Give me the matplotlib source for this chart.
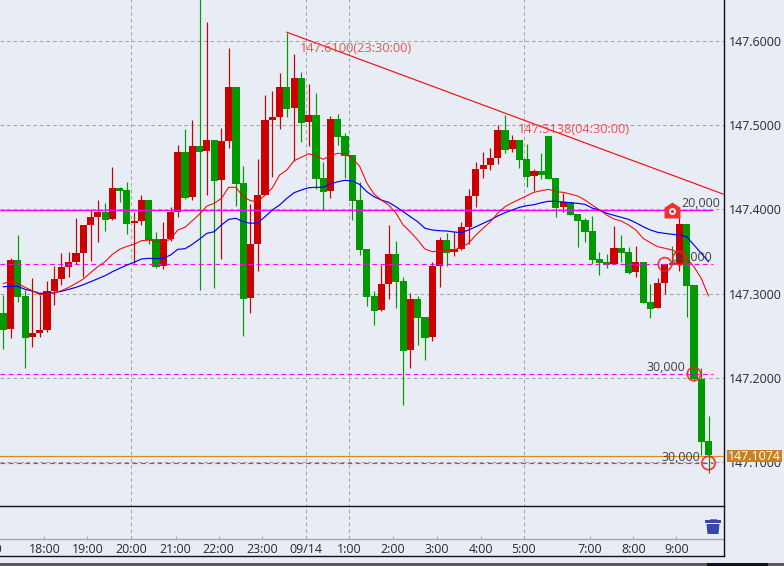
import numpy as np
import matplotlib
matplotlib.use("Agg")
import matplotlib.pyplot as plt
from matplotlib.patches import Rectangle, Polygon
from matplotlib.path import Path
from matplotlib.transforms import Affine2D

plt.rcParams['font.family'] = ['Open Sans', 'DejaVu Sans']

# Prices are listed in units of 0.0001 above 147.0000
open_u = [2770,2581,3399,2972,2486,2533,2569,3031,3173,3316,3375,3482,3814,3909,3968,3885,4253,4229,3838,3861,4110,3648,3328,3648,3968,4679,4146,4751,4691,4822,4347,4810,5450,4312,2948,3589,4170,5059,5095,5450,5201,5557,5035,5118,4371,4217,5071,4869,4644,4110,3529,2972,2806,3114,3470,3150,2332,2936,2723,2486,3328,3636,3494,3529,3790,4158,4478,4525,4608,4940,4715,4822,4596,4395,4454,4869,4371,4027,4087,3944,3873,3743,3411,3375,3351,3541,3494,3256,3375,2901,2830,3126,3363,3351,3826,3102,1988,1252]
close_u = [2569,3399,2960,2474,2533,2569,3031,3173,3316,3375,3482,3814,3909,3968,3873,4253,4217,3826,3861,4110,3636,3316,3648,3968,4679,4134,4751,4679,4822,4336,4810,5450,4300,2936,3589,4170,5059,5095,5450,5189,5557,5023,5118,4359,4205,5071,4857,4632,4098,3517,2960,2794,3114,3470,3138,2320,2936,2711,2474,3328,3636,3482,3529,3790,4158,4478,4525,4608,4940,4703,4822,4585,4383,4454,4407,4359,4015,4087,3932,3861,3731,3399,3363,3339,3541,3482,3245,3375,2889,2818,3126,3351,3339,3826,3090,1988,1241,1086]
high_u = [2984,3423,3695,3043,3185,2984,3150,3328,3482,3494,3897,3814,4004,4110,4075,4502,4264,4324,3968,4170,4110,3731,3849,4027,4762,4952,5059,6600,6221,4822,4964,5913,5450,4513,4063,4596,5355,5403,5616,6091,5842,5628,5486,5379,4561,5106,5130,4905,4644,4324,3529,3031,3339,3814,3624,3197,3007,2972,2723,3375,3672,3719,3743,3849,4241,4561,4679,4727,5000,5118,4881,4822,4774,4478,4668,4869,4371,4193,4087,3944,3897,3921,3494,3470,3802,3695,3553,3565,3375,3114,3185,3351,3565,3932,3826,3102,2118,1549]
low_u = [2343,2474,2901,2118,2367,2486,2545,2865,3102,3197,3351,3197,3387,3612,3743,3873,4087,3707,3363,3814,3589,3304,3292,3624,3909,4122,4110,3043,4170,3067,3411,4727,4039,2498,2770,3268,4170,4383,4952,5095,4573,4798,4751,4241,3992,4134,4762,4371,3873,3458,2853,2628,2794,2936,2830,1679,2118,2391,2213,2438,3079,3328,3446,3517,3589,4027,4371,4466,4537,4668,4679,4490,4264,4217,4359,4359,3909,3968,3932,3553,3612,3351,3221,3304,3351,3375,3233,3197,2889,2711,2830,2996,3339,3268,2723,1964,1086,873]
ma_short_u = [3122,3141,3122,3075,3035,2987,2996,3011,3035,3075,3122,3173,3248,3319,3379,3466,3526,3561,3585,3628,3636,3616,3616,3644,3755,3787,3865,3944,4039,4071,4130,4261,4261,4149,4102,4090,4170,4253,4407,4466,4576,4617,4659,4636,4593,4636,4664,4656,4605,4513,4312,4181,4110,4051,3956,3814,3731,3636,3529,3497,3509,3514,3517,3549,3597,3695,3775,3853,3953,4031,4078,4119,4161,4202,4221,4237,4209,4202,4181,4158,4110,4051,3992,3932,3885,3861,3814,3755,3656,3604,3557,3538,3517,3478,3419,3319,3182,2972]
ma_long_u = [3082,3087,3087,3051,3031,3004,3004,3011,3028,3051,3075,3106,3141,3177,3213,3260,3300,3339,3372,3411,3419,3414,3419,3458,3526,3533,3585,3648,3715,3734,3814,3881,3893,3853,3834,3841,3912,3992,4051,4130,4197,4229,4256,4261,4261,4300,4327,4344,4336,4296,4209,4149,4110,4083,4031,3972,3912,3853,3775,3755,3746,3743,3731,3723,3755,3794,3834,3873,3921,3960,3992,4024,4043,4055,4078,4095,4095,4087,4078,4071,4059,4015,3992,3953,3929,3905,3881,3841,3794,3755,3727,3715,3704,3695,3675,3577,3478,3379]

x_labels = ["18:00","19:00","20:00","21:00","22:00","23:00","09/14","1:00","2:00","3:00","4:00","5:00","7:00","8:00","9:00"]
x_ticks = [5.64,11.58,17.63,23.69,29.6,35.58,41.57,47.6,53.6,59.66,65.7,71.6,80.7,86.66,92.57]
x_grid = [17.63,41.57,47.6,71.6]
y_ticks = [147.1,147.2,147.3,147.4,147.5,147.6]

trend_x = [39, 99]
trend_y = [147.61, 147.4181]
peak_notes = [(40.8, 147.5907, "147.6100(23:30:00)"), (70.8, 147.4952, "147.5138(04:30:00)")]

solid_level = 147.3995
dashed_levels = [147.3348, 147.2043, 147.0988]
last_price = 147.1074
order_labels = [(98.6, 147.4065, "20,000"), (97.5, 147.3424, "30,000"),
                (93.8, 147.2120, "30,000"), (95.8, 147.1056, "30,000")]
circle_x = [91, 93, 95, 97]
circle_y = [147.3348, 147.3422, 147.2047, 147.0992]
house_x = 92
house_y = 147.3992

BG = '#E8ECF4'
GRID = '#A6A6A6'
UP = '#CC0000'
DOWN = '#009900'
MAG = '#FF00FF'
TXT = '#2A2A2A'
FS = 8.9
W, H = 784, 566

fig = plt.figure(figsize=(W/100, H/100), dpi=100, facecolor=BG)
ax2 = fig.add_axes([0, 1-556/H, 723.5/W, 50.5/H], facecolor=BG)
ax = fig.add_axes([0, 1-505.5/H, 723.5/W, 505.5/H], facecolor=BG)
ax.set_zorder(3)
XL = (-0.454, 99.06)
ax.set_xlim(XL); ax2.set_xlim(XL)
ax.set_ylim(147.0488, 147.6482)
ax2.set_ylim(0, 1)

O = 147 + np.array(open_u)/1e4
C = 147 + np.array(close_u)/1e4
Hi = 147 + np.array(high_u)/1e4
Lo = 147 + np.array(low_u)/1e4
X = np.arange(len(O))
cols = [UP if c > o else DOWN for o, c in zip(O, C)]

dash = (0, (3.5, 2.8))
for y in y_ticks:
    ax.axhline(y, color=GRID, lw=0.75, ls=dash, zorder=1)
ax.vlines(x_grid, 147, 148, color=GRID, lw=0.75, ls=dash, zorder=1)
ax2.vlines(x_grid, 0.327, 1, color=GRID, lw=0.75, ls=dash, zorder=1)

ax.vlines(X, Lo, Hi, colors=cols, lw=0.85, zorder=2)
ax.bar(X, np.abs(C-O), bottom=np.minimum(O, C), width=0.985, color=cols, linewidth=0, zorder=2.1, antialiased=False)

xm = 97.6
ax.plot([XL[0], xm], [solid_level]*2, color=MAG, lw=1.0, zorder=3, solid_capstyle='butt')
for y in dashed_levels:
    ax.plot([XL[0], xm], [y, y], color=MAG, lw=0.85, ls=(0, (4, 3)), zorder=3)
ax.axhline(last_price, color='#D98A1A', lw=0.85, zorder=3)

ax.plot(X, 147+np.array(ma_long_u)/1e4, color='#0000FF', lw=0.85, zorder=4)
ax.plot(X, 147+np.array(ma_short_u)/1e4, color='#FF0000', lw=0.75, zorder=4.1)
ax.plot(trend_x, trend_y, color='#F01010', lw=0.85, zorder=4.1)

for nx, ny, s in peak_notes:
    ax.text(nx, ny, s, color='#F05050', fontsize=9.2, ha='left', va='center', zorder=5)
for lx, ly, s in order_labels:
    ax.text(lx, ly, s, color='#404040', fontsize=FS, ha='right', va='center', zorder=5)

ax.scatter(circle_x, circle_y, s=92, facecolors='none', edgecolors='#F02020', linewidths=1.3, alpha=0.85, zorder=6)
house = Path([(-1, -1), (1, -1), (1, 0.35), (0, 1), (-1, 0.35), (-1, -1)],
             [Path.MOVETO]+[Path.LINETO]*4+[Path.CLOSEPOLY])
ax.plot([house_x], [house_y], marker=house, ms=11.5, color='#F03030', mec='none', zorder=6, ls='none')
ax.plot([house_x], [house_y-0.001], marker='o', ms=5, color='white', mec='none', zorder=6.1, ls='none')
ax.plot([house_x], [house_y-0.001], marker='o', ms=2.4, color='#F03030', mec='none', zorder=6.2, ls='none')

# axes furniture
ax.set_xticks([])
ax.yaxis.tick_right()
ax.set_yticks(y_ticks)
ax.set_yticklabels([f"{v:.4f}" for v in y_ticks], fontsize=FS, color=TXT)
ax.tick_params(axis='y', length=0, pad=4)
for s in ('top', 'left'):
    ax.spines[s].set_visible(False)
    ax2.spines[s].set_visible(False)
for a in (ax, ax2):
    a.spines['right'].set_linewidth(1.0); a.spines['right'].set_color('#111111')
    a.spines['bottom'].set_linewidth(1.0); a.spines['bottom'].set_color('#111111')
ax2.set_yticks([]); ax2.set_xticks([])

# time axis inside the lower panel
ax2.axhline(0.327, color=GRID, lw=1.0, zorder=2)
ax2.vlines(x_ticks, 0.327, 0.39, color=GRID, lw=0.75, zorder=2)
for xt, s in zip(x_ticks, x_labels):
    ax2.text(xt, 0.135, s, ha='center', va='center', fontsize=FS, color=TXT, clip_on=False)
ax2.text(-2.3, 0.135, "17:00", ha='center', va='center', fontsize=FS, color=TXT, clip_on=False)

# last-price tag on the price scale
tr = ax.get_yaxis_transform()
ax.add_patch(Rectangle((727/723.5, last_price-0.0073), 55/723.5, 0.0146, transform=tr,
                       facecolor='#C98220', edgecolor='none', clip_on=False, zorder=8))
ax.text(754.5/723.5, last_price-0.0003, "147.1074", transform=tr, color='white', fontsize=FS,
        ha='center', va='center', clip_on=False, zorder=9)

# window furniture in pixels
px = Affine2D().scale(1, -1).translate(0, H)
def poly(pts, col, z=10):
    fig.add_artist(Polygon(pts, closed=True, transform=px, facecolor=col, edgecolor='none', zorder=z))
ICON = '#3848A8'
poly([(709.5, 518.5), (716.5, 518.5), (716.5, 520), (709.5, 520)], '#6A76C0')
poly([(705, 520), (721, 520), (721, 523), (705, 523)], ICON)
poly([(706.5, 524), (719.5, 524), (718.5, 534), (707.5, 534)], ICON)
for xs in (710, 713, 716):
    poly([(xs-0.4, 525), (xs+0.4, 525), (xs+0.4, 533), (xs-0.4, 533)], '#8A94D8', 11)
poly([(0, 563), (W, 563), (W, 566), (0, 566)], '#5A5A5A')
poly([(707, 563), (768, 563), (768, 566), (707, 566)], '#10141C')

fig.savefig('out.png', dpi=100, facecolor=BG)
